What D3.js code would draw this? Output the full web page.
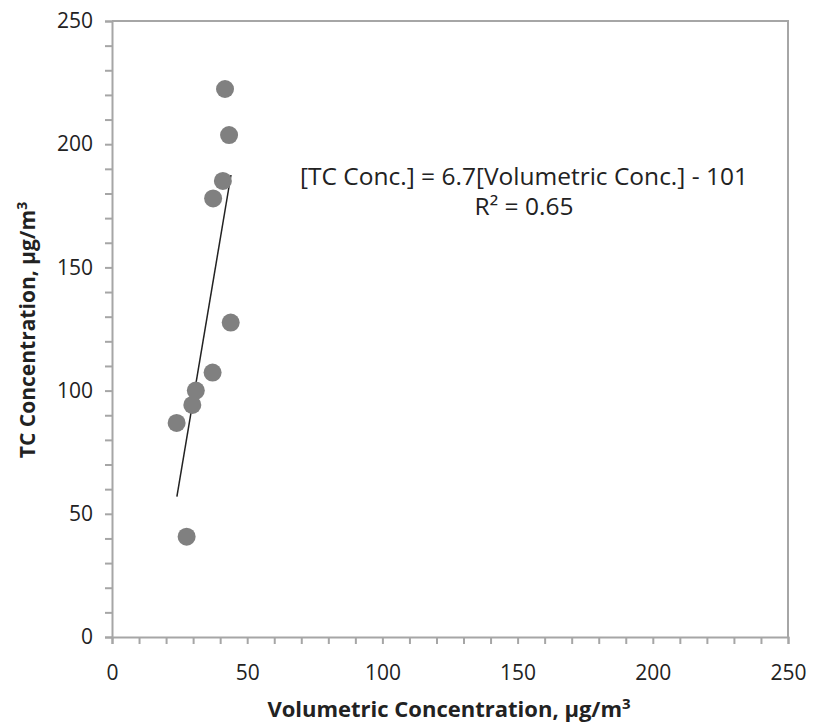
<!DOCTYPE html>
<html>
<head>
<meta charset="utf-8">
<script src="https://cdn.jsdelivr.net/npm/d3@7"></script>
<style>
  body { margin: 0; background: #fff; }
  svg { font-family: "Open Sans", "DejaVu Sans", sans-serif; }
</style>
</head>
<body>
<script>
// values
const volumetric = [41.8, 43.3, 41.0, 37.4, 43.9, 37.2, 31.0, 29.7, 23.9, 27.6];
const tcConc = [222.4, 203.7, 185.1, 178.0, 127.6, 107.3, 100.0, 94.2, 86.9, 40.7];
const trendX = [24, 44];
const trendY = [57, 187.5];
const xTicks = [0, 50, 100, 150, 200, 250];
const yTicks = [0, 50, 100, 150, 200, 250];

const W = 815, H = 727;
const pad = { left: 112, right: 27, top: 21, bottom: 90 };
const width = W - pad.left - pad.right;
const height = H - pad.top - pad.bottom;

const svg = d3.select('body').append('svg')
  .attr('width', W)
  .attr('height', H);

const x = d3.scaleLinear().domain([0, 250]).range([0, width]);
const y = d3.scaleLinear().domain([0, 250]).range([height, 0]);

const g = svg.append('g')
  .attr('transform', `translate(${pad.left},${pad.top})`);

const axisColor = '#a6a6a6';

// frame (top + right)
g.append('path')
  .attr('d', `M0,0H${width}V${height}`)
  .attr('fill', 'none')
  .attr('stroke', axisColor)
  .attr('stroke-width', 2);

/* minor ticks */
const minor = d3.range(0, 251, 10);
const xAxisMinor = d3.axisBottom(x).tickValues(minor).tickSize(7).tickFormat('');
const yAxisMinor = d3.axisLeft(y).tickValues(minor).tickSize(7).tickFormat('');

const xAx = g.append('g')
  .attr('transform', `translate(0,${height})`)
  .call(xAxisMinor);
const yAx = g.append('g').call(yAxisMinor);

[xAx, yAx].forEach(a => {
  a.select('.domain').attr('stroke', axisColor).attr('stroke-width', 2);
  a.selectAll('.tick line').attr('stroke', axisColor).attr('stroke-width', 2);
});

/* major labels */
const xAxis = d3.axisBottom(x).tickValues(xTicks).tickSize(0).tickPadding(28);
const yAxis = d3.axisLeft(y).tickValues(yTicks).tickSize(0).tickPadding(19);

const xl = g.append('g')
  .attr('transform', `translate(0,${height})`)
  .call(xAxis);
const yl = g.append('g').call(yAxis);
[xl, yl].forEach(a => {
  a.select('.domain').remove();
  a.selectAll('text')
    .attr('font-size', 21)
    .attr('font-family', '"Open Sans", sans-serif')
    .attr('fill', '#222');
});

/* trend line */
g.append('line')
  .attr('x1', x(trendX[0])).attr('y1', y(trendY[0]))
  .attr('x2', x(trendX[1])).attr('y2', y(trendY[1]))
  .attr('stroke', '#222')
  .attr('stroke-width', 1.5);

/* points */
g.selectAll('circle')
  .data(volumetric.map((v, i) => ({ v, tc: tcConc[i] })))
  .enter().append('circle')
  .attr('cx', d => x(d.v))
  .attr('cy', d => y(d.tc))
  .attr('r', 9)
  .attr('fill', '#808080');

/* equation */
const eq = g.append('text')
  .attr('text-anchor', 'middle')
  .attr('font-size', 24.5)
  .attr('fill', '#222');
eq.append('tspan')
  .attr('x', 412).attr('y', 164)
  .text('[TC Conc.] = 6.7[Volumetric Conc.] - 101');
eq.append('tspan')
  .attr('x', 412).attr('y', 194)
  .text('R² = 0.65');

/* axis titles */
svg.append('text')
  .attr('x', 449)
  .attr('y', 717)
  .attr('text-anchor', 'middle')
  .attr('font-size', 22)
  .attr('font-weight', 'bold')
  .attr('fill', '#222')
  .html('Volumetric Concentration, µg/m<tspan dy="-8" font-size="15">3</tspan>');

svg.append('text')
  .attr('transform', `translate(35,330) rotate(-90)`)
  .attr('text-anchor', 'middle')
  .attr('font-size', 21)
  .attr('font-weight', 'bold')
  .attr('fill', '#222')
  .html('TC Concentration, µg/m<tspan dy="-8" font-size="14">3</tspan>');
</script>
</body>
</html>
